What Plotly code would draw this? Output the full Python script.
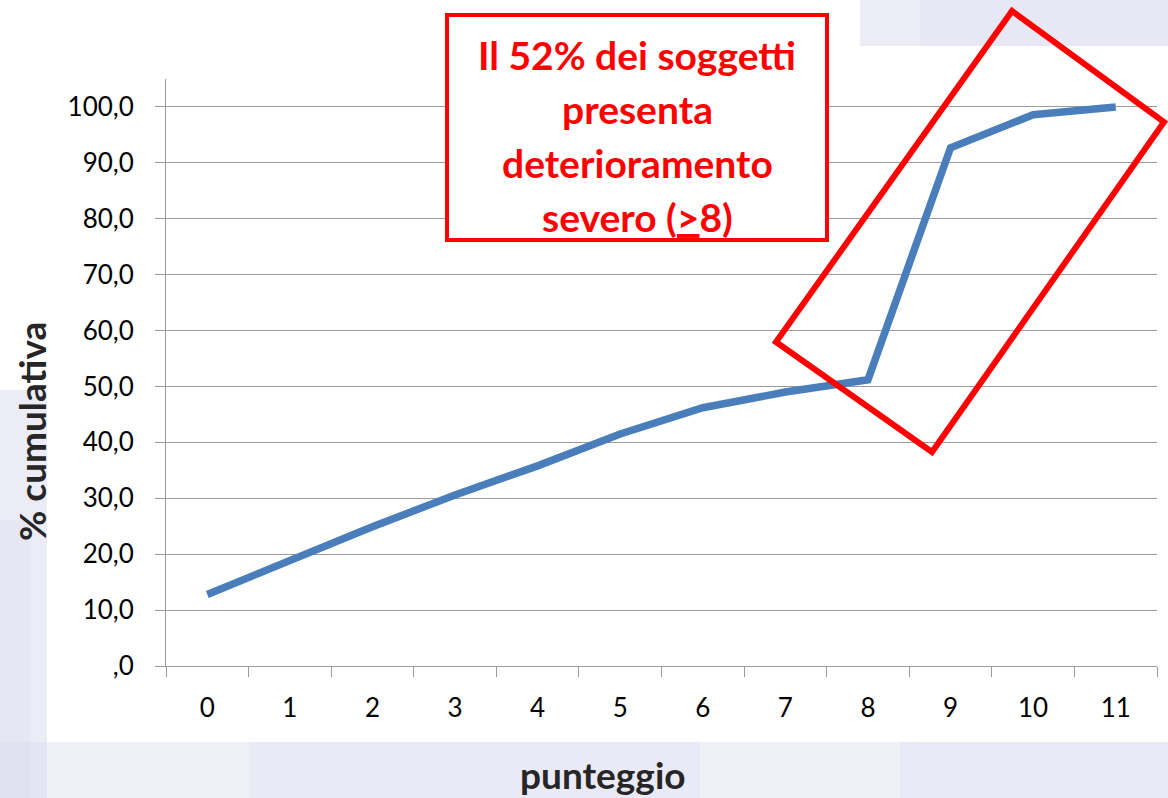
import plotly.graph_objects as go

# ---- data ----
punteggio = ["0", "1", "2", "3", "4", "5", "6", "7", "8", "9", "10", "11"]
cumulativa = [12.8, 19.0, 24.9, 30.6, 35.8, 41.5, 46.2, 49.0, 51.2, 92.7, 98.6, 100.0]
y_tickvals = [0, 10, 20, 30, 40, 50, 60, 70, 80, 90, 100]
y_ticktext = [",0", "10,0", "20,0", "30,0", "40,0", "50,0", "60,0", "70,0", "80,0", "90,0", "100,0"]
box_lines = ["Il 52% dei soggetti", "presenta", "deterioramento", "severo (<u>&gt;</u>8)"]

W, H = 1168, 798
L, R, T, B = 166, 11, 79, 132
PW, PH = W - L - R, H - T - B


def px(x):
    return (x - L) / PW


def py(y):
    return (H - B - y) / PH


FONT = "Lato"
RED = "#ff0000"

fig = go.Figure()
fig.add_trace(go.Scatter(
    x=punteggio, y=cumulativa, mode="lines",
    line=dict(color="#4a7ebb", width=7.5),
    hoverinfo="x+y", showlegend=False,
))

shapes = []
# background decoration (slide background)
bg = "#dcdcf0"
bg_rects = [
    (0, 47, 390, 798, 0.55),
    (0, 30, 520, 798, 0.35),
    (0, 1168, 742, 798, 0.45),
    (250, 700, 742, 798, 0.25),
    (900, 1168, 742, 798, 0.3),
    (860, 1168, 0, 46, 0.55),
    (920, 1168, 0, 46, 0.25),
]
for x0, x1, y0, y1, op in bg_rects:
    shapes.append(dict(type="rect", xref="paper", yref="paper", layer="below",
                       x0=px(x0), x1=px(x1), y0=py(y1), y1=py(y0),
                       fillcolor=bg, line=dict(width=0), opacity=op))
# white chart area
shapes.append(dict(type="rect", xref="paper", yref="paper", layer="below",
                   x0=px(47), x1=px(1168), y0=py(742), y1=py(46),
                   fillcolor="white", line=dict(width=0)))
# text box
shapes.append(dict(type="rect", xref="paper", yref="paper", layer="above",
                   x0=px(447), x1=px(827), y0=py(240), y1=py(15),
                   fillcolor="white", line=dict(color=RED, width=4)))
# rotated highlight rectangle
corners = [(1012, 11), (1164, 122), (932, 452), (776, 342)]
path = "M " + " L ".join(f"{px(x):.5f},{py(y):.5f}" for x, y in corners) + " Z"
shapes.append(dict(type="path", xref="paper", yref="paper", layer="above",
                   path=path, line=dict(color=RED, width=6)))

annotations = []
line_y = [55, 109, 163, 217]
for txt, yy in zip(box_lines, line_y):
    annotations.append(dict(text=f"<b>{txt}</b>", xref="paper", yref="paper",
                            x=px(637), y=py(yy), xanchor="center", yanchor="middle",
                            showarrow=False, font=dict(family=FONT, size=39, color=RED)))
annotations.append(dict(text="<b>punteggio</b>", xref="paper", yref="paper",
                        x=px(603), y=py(774), xanchor="center", yanchor="middle",
                        showarrow=False, font=dict(family=FONT, size=37, color="#262626")))
annotations.append(dict(text="<b>% cumulativa</b>", xref="paper", yref="paper",
                        x=px(31), y=py(432), xanchor="center", yanchor="middle",
                        textangle=-90, showarrow=False,
                        font=dict(family=FONT, size=37, color="#262626")))

fig.update_layout(
    width=W, height=H,
    margin=dict(l=L, r=R, t=T, b=B, pad=0),
    paper_bgcolor="white", plot_bgcolor="rgba(0,0,0,0)",
    shapes=shapes, annotations=annotations,
    font=dict(family=FONT, color="#000000"),
)
fig.update_xaxes(
    type="category", tickson="boundaries", ticks="outside", ticklen=10,
    tickcolor="#9a9a9a", showline=True, linecolor="#9a9a9a", linewidth=1,
    showgrid=False, tickfont=dict(family=FONT, size=26, color="#000000"),
    ticklabelstandoff=19, range=[-0.5, 11.5],
)
fig.update_yaxes(
    range=[0, 105], tickvals=y_tickvals, ticktext=y_ticktext,
    ticks="outside", ticklen=10, tickcolor="#9a9a9a",
    showline=True, linecolor="#9a9a9a", linewidth=1,
    showgrid=True, gridcolor="#9a9a9a", gridwidth=1, zeroline=False,
    tickfont=dict(family=FONT, size=26, color="#000000"),
    ticklabelstandoff=16,
)

fig.write_html(
    "out.html",
    config={"displayModeBar": False},
    post_script="document.body.style.margin='0';document.body.style.overflow='hidden';",
)
